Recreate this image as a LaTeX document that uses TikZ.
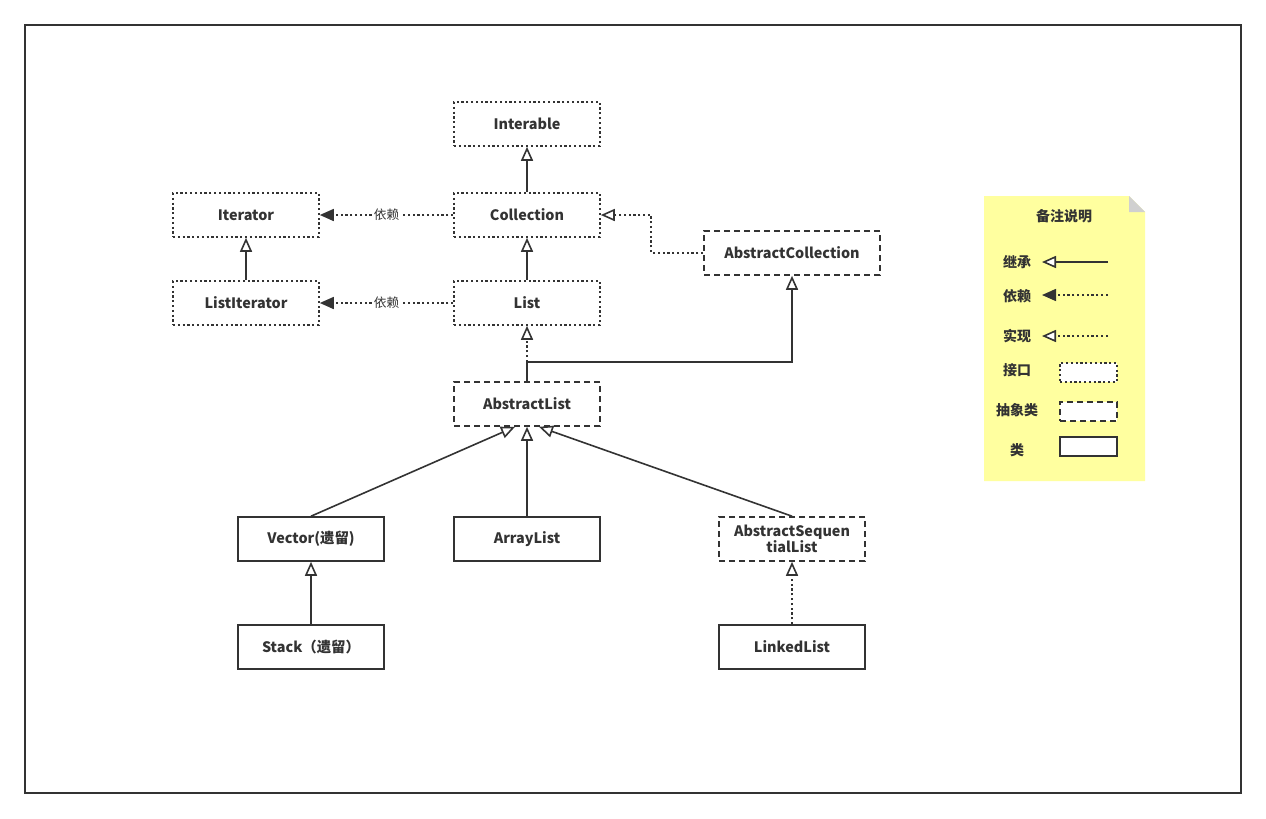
\documentclass[tikz,border=0pt]{standalone}
\usepackage{fontspec}
\setmainfont{Noto Sans CJK SC}
\usetikzlibrary{arrows.meta,calc}
\definecolor{ln}{HTML}{333333}
\definecolor{tx}{HTML}{333333}
\definecolor{notey}{HTML}{FFFF9F}
\definecolor{foldg}{HTML}{D0D0D0}
\tikzset{
  box/.style={draw=ln, line width=1.2pt, fill=white, minimum width=109.5pt, minimum height=33pt,
    inner sep=0pt, font=\bfseries\fontsize{10.8}{11.5}\selectfont, text=tx, align=center},
  iface/.style={box, dash pattern=on 1.6pt off 2pt},
  absbox/.style={box, dash pattern=on 4.5pt off 3pt},
  clsbox/.style={box},
  inh/.style={draw=ln, line width=1.2pt, -{Triangle[length=10.5pt,width=9pt,fill=white]}},
  dep/.style={draw=ln, line width=1.2pt, dash pattern=on 1.6pt off 2pt, -{Triangle[length=10.5pt,width=9pt,fill=ln]}},
  impl/.style={draw=ln, line width=1.2pt, dash pattern=on 1.6pt off 2pt, -{Triangle[length=10.5pt,width=9pt,fill=white]}},
  lbl/.style={fill=white, inner sep=1pt, text=tx, font=\fontsize{9.5}{10}\selectfont},
  leg/.style={text=tx, font=\bfseries\fontsize{10.5}{11.5}\selectfont, inner sep=0pt},
  legbox/.style={draw=ln, line width=1.2pt, fill=white, minimum width=42.75pt, minimum height=14.25pt, inner sep=0pt},
}
\begin{document}
\begin{tikzpicture}[x=0.75pt, y=-0.75pt]
\useasboundingbox (0,0) rectangle (1266,818);
\fill[white] (0,0) rectangle (1266,818);
\draw[ln, line width=1.2pt] (25,25) rectangle (1241,793);

% nodes
\node[iface] (it)  at (527,124) {Interable};
\node[iface] (itr) at (246,215) {Iterator};
\node[iface] (col) at (527,215) {Collection};
\node[iface] (litr) at (246,303) {ListIterator};
\node[iface] (lst) at (527,303) {List};
\node[absbox, minimum width=132pt] (ac) at (792,253) {AbstractCollection};
\node[absbox] (al) at (527,404) {AbstractList};
\node[clsbox] (vec) at (311,539) {Vector(遗留)};
\node[clsbox] (arr) at (527,539) {ArrayList};
\node[absbox] (asl) at (792,539) {AbstractSequen\\tialList};
\node[clsbox] (stk) at (311,647) {Stack（遗留）};
\node[clsbox] (lkl) at (792,647) {LinkedList};

% connectors
\draw[inh] (col) -- (it);
\draw[dep] (col) -- node[lbl] {依赖} (itr);
\draw[inh] (litr) -- (itr);
\draw[inh] (lst) -- (col);
\draw[dep] (lst) -- node[lbl] {依赖} (litr);
\draw[impl] (ac.west) -- ++(-52,0) |- (col.east);
\draw[impl] (al.north) -- (lst.south);
\draw[inh] (al.north) -- ++(0,-19) -| (ac.south);
\draw[inh] (vec.north) -- ($(al.south)+(-12,0)$);
\draw[inh] (arr.north) -- (al.south);
\draw[inh] (asl.north) -- ($(al.south)+(12,0)$);
\draw[inh] (stk) -- (vec);
\draw[impl] (lkl) -- (asl);

% legend note
\fill[notey] (984,196) -- (1129,196) -- (1145,212) -- (1145,481) -- (984,481) -- cycle;
\fill[foldg] (1129,196) -- (1145,212) -- (1129,212) -- cycle;
\node[leg] (lt) at (1064,216) {备注说明};
\node[leg] (l1) at (1017,262) {继承};
\node[leg] (l2) at (1017,296) {依赖};
\node[leg] (l3) at (1017,336) {实现};
\node[leg] (l4) at (1017,370) {接口};
\node[leg] (l5) at (1017,410) {抽象类};
\node[leg] (l6) at (1017,450) {类};
\coordinate (a1s) at (1108,262); \coordinate (a1e) at (1042,262);
\coordinate (a2s) at (1108,295); \coordinate (a2e) at (1042,295);
\coordinate (a3s) at (1108,336); \coordinate (a3e) at (1042,336);
\draw[inh] (a1s) -- (a1e);
\draw[dep] (a2s) -- (a2e);
\draw[impl] (a3s) -- (a3e);
\node[legbox, dash pattern=on 1.6pt off 2pt] (b1) at (1088.5,372.5) {};
\node[legbox, dash pattern=on 4.5pt off 3pt] (b2) at (1088.5,411.5) {};
\node[legbox] (b3) at (1088.5,446.5) {};
\end{tikzpicture}
\end{document}
